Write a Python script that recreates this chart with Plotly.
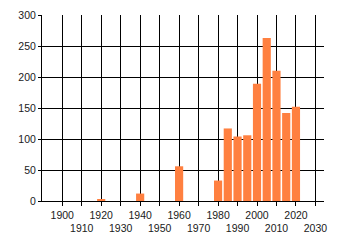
import plotly.graph_objects as go

years = [1920, 1940, 1960, 1980, 1985, 1990, 1995, 2000, 2005, 2010, 2015, 2020]
counts = [3, 12, 56, 33, 117, 104, 106, 189, 263, 210, 142, 152]

x_ticks = list(range(1900, 2031, 10))
x_labels = [str(v) if (v // 10) % 2 == 0 else "<br>" + str(v) for v in x_ticks]
y_ticks = [0, 50, 100, 150, 200, 250, 300]

fig = go.Figure()
fig.add_trace(go.Bar(x=years, y=counts, width=4.2, marker=dict(color="#FF8040", line=dict(width=0))))

fig.update_layout(
    width=340, height=245,
    margin=dict(l=42, r=16, t=15, b=44),
    paper_bgcolor="white", plot_bgcolor="white",
    showlegend=False,
    font=dict(family="Liberation Sans", size=10.5, color="#1a1a1a"),
    xaxis=dict(
        range=[1889.6, 2034.4],
        tickmode="array", tickvals=x_ticks, ticktext=x_labels, tickangle=0,
        showgrid=True, gridcolor="black", gridwidth=1,
        ticks="outside", ticklen=4, tickcolor="black",
        showline=True, linecolor="black", linewidth=1,
        zeroline=False, fixedrange=True, automargin=False,
    ),
    yaxis=dict(
        range=[0, 300],
        tickmode="array", tickvals=y_ticks,
        showgrid=True, gridcolor="black", gridwidth=1,
        ticks="outside", ticklen=3, tickcolor="black",
        showline=True, linecolor="black", linewidth=1,
        zeroline=False, fixedrange=True, automargin=False,
    ),
)

fig.write_html("out.html", config={"displayModeBar": False})
